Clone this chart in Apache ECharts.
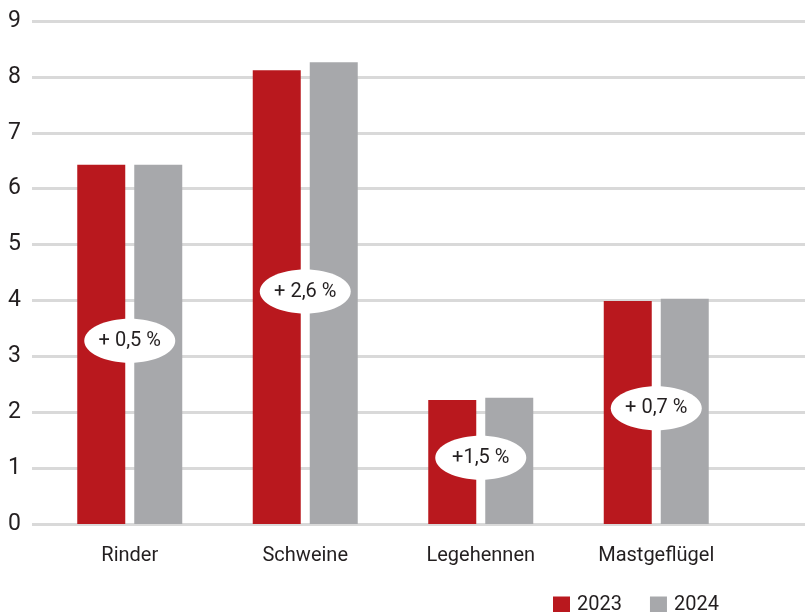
<!DOCTYPE html>
<html>
<head>
<meta charset="utf-8">
<script src="https://cdn.jsdelivr.net/npm/echarts@6/dist/echarts.min.js"></script>
<style>
  html, body { margin: 0; padding: 0; background: #fff; }
  #chart { width: 805px; height: 612px; }
</style>
</head>
<body>
<div id="chart"></div>
<script>
var categories = ["Rinder", "Schweine", "Legehennen", "Mastgeflügel"];
var values2023 = [6.43, 8.12, 2.22, 3.99];
var values2024 = [6.43, 8.26, 2.26, 4.03];
var changeLabels = ["+ 0,5 %", "+ 2,6 %", "+1,5 %", "+ 0,7 %"];
var yMin = 0, yMax = 9, yStep = 1;

var red = "#b9181e";
var grey = "#a7a8ab";
var textColor = "#231f20";
var font = "Roboto";

// ellipse marker for the change labels
var ellipse = "path://M0,50 C0,22.4 44.8,0 100,0 C155.2,0 200,22.4 200,50 C200,77.6 155.2,100 100,100 C44.8,100 0,77.6 0,50 Z";

var labelPoints = categories.map(function (c, i) {
  return [i, (values2023[i] + values2024[i]) / 4 + 0.065];
});

var myChart = echarts.init(document.getElementById("chart"));
var option = {
  animation: false,
  textStyle: { fontFamily: font },
  grid: [
    { left: 32, right: 0, top: 21, bottom: 88 },
    { left: 42, right: 61, top: 21, bottom: 88 }
  ],
  legend: {
    left: 548,
    top: 590,
    itemWidth: 17,
    itemHeight: 17,
    itemGap: 28,
    icon: "rect",
    textStyle: { fontFamily: font, fontSize: 20, color: textColor, padding: [0, 0, 0, 2] },
    data: ["2023", "2024"]
  },
  xAxis: [
    { gridIndex: 0, type: "category", data: categories, show: false },
    {
      gridIndex: 1,
      type: "category",
      data: categories,
      axisLine: { show: false },
      axisTick: { show: false },
      axisLabel: { margin: 22, fontSize: 20, color: textColor, fontFamily: font }
    }
  ],
  yAxis: [
    {
      gridIndex: 0,
      type: "value",
      min: yMin,
      max: yMax,
      interval: yStep,
      axisLine: { show: false },
      axisTick: { show: false },
      axisLabel: { margin: 11, fontSize: 23, color: textColor, fontFamily: font },
      splitLine: { lineStyle: { color: "#d9d9d9", width: 3 } }
    },
    { gridIndex: 1, type: "value", min: yMin, max: yMax, interval: yStep, show: false, splitLine: { show: false } }
  ],
  series: [
    {
      name: "2023",
      type: "bar",
      xAxisIndex: 1,
      yAxisIndex: 1,
      data: values2023,
      barWidth: 48,
      barGap: "18.75%",
      itemStyle: { color: red },
      emphasis: { disabled: true }
    },
    {
      name: "2024",
      type: "bar",
      xAxisIndex: 1,
      yAxisIndex: 1,
      data: values2024,
      barWidth: 48,
      itemStyle: { color: grey },
      emphasis: { disabled: true }
    },
    {
      type: "scatter",
      xAxisIndex: 1,
      yAxisIndex: 1,
      data: labelPoints,
      symbol: ellipse,
      symbolSize: [91, 44],
      itemStyle: { color: "#fff", opacity: 1 },
      z: 5,
      label: {
        show: true,
        position: "inside",
        fontSize: 20,
        color: textColor,
        fontFamily: font,
        formatter: function (p) { return changeLabels[p.dataIndex]; }
      },
      emphasis: { disabled: true },
      silent: true
    }
  ]
};

option && myChart.setOption(option);
</script>
</body>
</html>
